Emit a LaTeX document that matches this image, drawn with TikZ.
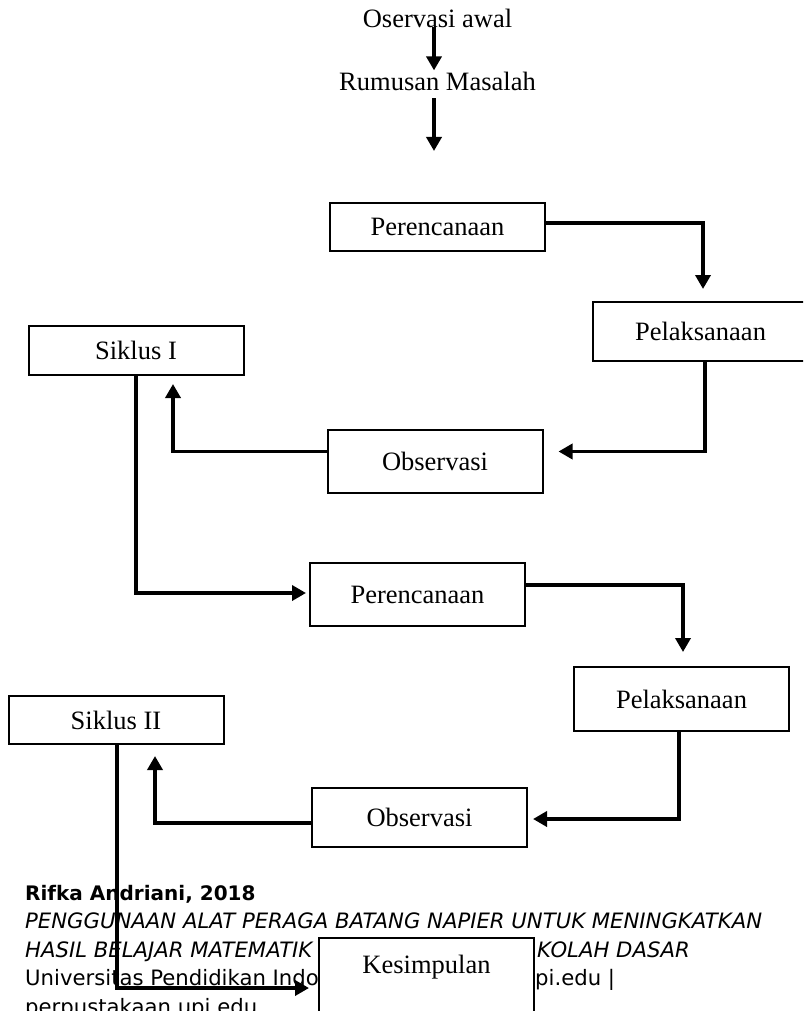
\documentclass[tikz,border=0pt]{standalone}
\usepackage{fontspec}
\setmainfont{Liberation Serif}
\newfontfamily\footfont{DejaVu Sans}
\usetikzlibrary{arrows.meta}
\tikzset{
  box/.style={draw, line width=2pt, fill=white, inner sep=0pt, minimum width=215pt,
    font=\fontsize{26.5}{30}\selectfont},
  lbl/.style={inner sep=0pt, font=\fontsize{26.5}{30}\selectfont},
  arr/.style={line width=3.6pt, -{Triangle[length=14pt,width=15pt]}},
  foot/.style={inner sep=0pt, anchor=base west, font=\footfont\fontsize{21.2}{28.5}\selectfont},
}
\begin{document}
\begin{tikzpicture}[x=1pt,y=-1pt]
\useasboundingbox (0,0) rectangle (803,1011);
\clip (0,0) rectangle (803,1011);
% footer text (drawn first, under the diagram)
\node[foot, font=\footfont\bfseries\fontsize{20}{28.5}\selectfont] (f1) at (25,900) {Rifka Andriani, 2018};
\node[foot, font=\footfont\itshape\fontsize{21.2}{28.5}\selectfont] (f2) at (25,928) {PENGGUNAAN ALAT PERAGA BATANG NAPIER UNTUK MENINGKATKAN};
\node[foot, font=\footfont\itshape\fontsize{21.2}{28.5}\selectfont] (f3a) at (25,957) {HASIL BELAJAR MATEMATIK};
\node[foot, font=\footfont\itshape\fontsize{21.2}{28.5}\selectfont] (f3b) at (537,957) {KOLAH DASAR};
\node[foot] (f4a) at (25,985) {Universitas Pendidikan Indo};
\node[foot] (f4b) at (535,985) {pi.edu |};
\node[foot] (f5) at (25,1014) {perpustakaan.upi.edu};
% top texts
\node[lbl, anchor=base] (oa) at (437.5,28) {Oservasi awal};
\node[lbl, anchor=base] (rm) at (437.5,91) {Rumusan Masalah};
\coordinate (c0) at (434,151);
% boxes
\node[box, minimum height=48pt] (p1) at (437.5,227) {Perencanaan};
\node[box, minimum height=59pt] (pel1) at (700.5,331.5) {Pelaksanaan};
\node[box, minimum height=63pt] (obs1) at (435,461.5) {Observasi};
\node[box, minimum height=49pt] (sik1) at (136,350.5) {Siklus I};
\node[box, minimum height=63pt] (p2) at (417.5,594.5) {Perencanaan};
\node[box, minimum height=64pt] (pel2) at (681.5,699) {Pelaksanaan};
\node[box, minimum height=59pt] (obs2) at (419.5,817.5) {Observasi};
\node[box, minimum height=48pt] (sik2) at (116,720) {Siklus II};
\node[box, minimum height=110pt, anchor=north] (kes) at (426.5,937) {};
\node[lbl] (kestxt) at (426.5,967) {Kesimpulan};
% connectors
\draw[arr, shorten <=-1pt, shorten >=2pt] ([xshift=-3.5pt]oa.south) -- ([xshift=-3.5pt]rm.north);
\draw[arr, shorten <=7pt] ([xshift=-3.5pt]rm.south) -- (c0);
\draw[arr, shorten >=12pt] ([yshift=4pt]p1.east) -| ([xshift=2.5pt]pel1.north);
\draw[arr, shorten >=15pt] ([xshift=4.5pt]pel1.south) |- ([yshift=10pt]obs1.east);
\draw[arr, shorten >=8pt] ([yshift=10pt]obs1.west) -| ([xshift=37pt]sik1.south);
\draw[arr, shorten >=3pt] (sik1.south) |- ([yshift=1.5pt]p2.west);
\draw[arr, shorten >=14pt] ([yshift=9.5pt]p2.east) -| ([xshift=1.5pt]pel2.north);
\draw[arr, shorten >=5pt] ([xshift=-2.5pt]pel2.south) |- ([yshift=-1.5pt]obs2.east);
\draw[arr, shorten >=11pt] ([yshift=-5.5pt]obs2.west) -| ([xshift=39pt]sik2.south);
\draw[arr, shorten >=9pt] ([xshift=1pt]sik2.south) |- ([yshift=-51pt]kes.north west);
\end{tikzpicture}
\end{document}
